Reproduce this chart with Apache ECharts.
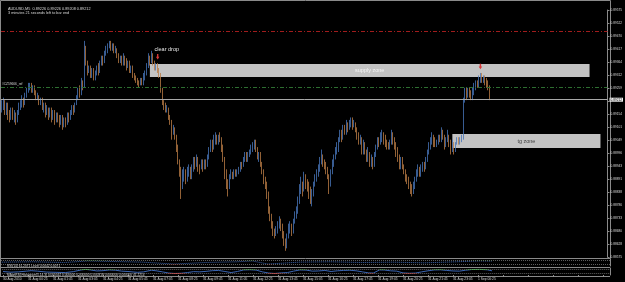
<!DOCTYPE html>
<html><head><meta charset="utf-8">
<script src="https://cdn.jsdelivr.net/npm/echarts@6/dist/echarts.min.js"></script>
<style>html,body{margin:0;padding:0;background:#000}#c{width:625px;height:282px}</style>
</head><body><div id="c"></div><script>
const timeLabels = ['30 Aug 2010','31 Aug 00:25','31 Aug 01:45','31 Aug 03:05','31 Aug 04:25','31 Aug 05:45','31 Aug 07:05','31 Aug 08:25','31 Aug 09:45','31 Aug 11:05','31 Aug 12:25','31 Aug 13:45','31 Aug 15:05','31 Aug 16:25','31 Aug 17:45','31 Aug 19:05','31 Aug 20:25','31 Aug 21:45','31 Aug 23:05','1 Sep 00:25'];
const priceTicks = ['0.88575','0.88628','0.88680','0.88733','0.88786','0.88838','0.88891','0.88943','0.88996','0.89049','0.89101','0.89154','0.89207','0.89259','0.89312','0.89364','0.89417','0.89470','0.89522','0.89575'];
const firstOpen = 0.8917;
const closes = [
0.8918,0.8920,0.8917,0.8919,0.8916,0.8914,0.8917,0.8915,0.8915,0.8913,0.8916,0.8918,0.8919,0.8921,0.8920,0.8923,
0.8925,0.8926,0.8927,0.8925,0.8926,0.8924,0.8922,0.8923,0.8920,0.8921,0.8918,0.8919,0.8916,0.8918,0.8915,0.8917,
0.8914,0.8916,0.8913,0.8915,0.8914,0.8912,0.8914,0.8911,0.8913,0.8912,0.8915,0.8914,0.8916,0.8918,0.8917,0.8919,
0.8922,0.8925,0.8924,0.8928,0.8927,0.8942,0.8936,0.8933,0.8934,0.8931,0.8933,0.8930,0.8932,0.8934,0.8933,0.8936,
0.8938,0.8937,0.8940,0.8941,0.8943,0.8944,0.8942,0.8943,0.8941,0.8942,0.8939,0.8937,0.8938,0.8936,0.8938,0.8937,
0.8935,0.8936,0.8933,0.8934,0.8931,0.8930,0.8929,0.8928,0.8927,0.8929,0.8928,0.8931,0.8932,0.8935,0.8938,0.8937,
0.8939,0.8936,0.8934,0.8935,0.8933,0.8931,0.8925,0.8920,0.8919,0.8917,0.8918,0.8914,0.8913,0.8908,0.8910,0.8906,
0.8902,0.8897,0.8893,0.8886,0.8890,0.8891,0.8889,0.8892,0.8893,0.8890,0.8893,0.8896,0.8895,0.8897,0.8894,0.8893,
0.8895,0.8894,0.8896,0.8895,0.8898,0.8901,0.8903,0.8902,0.8905,0.8906,0.8904,0.8906,0.8905,0.8902,0.8897,0.8892,
0.8888,0.8886,0.8890,0.8891,0.8890,0.8892,0.8891,0.8892,0.8893,0.8895,0.8894,0.8897,0.8898,0.8897,0.8899,0.8900,
0.8902,0.8903,0.8904,0.8901,0.8898,0.8899,0.8895,0.8892,0.8889,0.8887,0.8883,0.8877,0.8874,0.8871,0.8869,0.8867,
0.8869,0.8870,0.8872,0.8870,0.8867,0.8864,0.8862,0.8866,0.8869,0.8870,0.8868,0.8872,0.8874,0.8876,0.8880,0.8884,
0.8886,0.8885,0.8889,0.8887,0.8886,0.8884,0.8882,0.8883,0.8887,0.8889,0.8891,0.8893,0.8896,0.8898,0.8896,0.8895,
0.8893,0.8890,0.8887,0.8892,0.8895,0.8898,0.8900,0.8901,0.8905,0.8907,0.8906,0.8909,0.8908,0.8911,0.8910,0.8912,
0.8913,0.8911,0.8912,0.8909,0.8907,0.8905,0.8906,0.8901,0.8903,0.8900,0.8898,0.8899,0.8896,0.8897,0.8895,0.8899,
0.8902,0.8905,0.8904,0.8906,0.8907,0.8906,0.8904,0.8903,0.8902,0.8904,0.8906,0.8905,0.8903,0.8901,0.8898,0.8896,
0.8897,0.8894,0.8892,0.8890,0.8889,0.8887,0.8885,0.8884,0.8886,0.8889,0.8891,0.8893,0.8891,0.8893,0.8895,0.8894,
0.8897,0.8900,0.8902,0.8904,0.8906,0.8905,0.8903,0.8904,0.8906,0.8905,0.8908,0.8906,0.8903,0.8905,0.8907,0.8904,
0.8902,0.8903,0.8901,0.8903,0.8905,0.8904,0.8905,0.8905,0.8921,0.8924,0.8923,0.8925,0.8924,0.8922,0.8925,0.8926,
0.8928,0.8927,0.8930,0.8931,0.8929,0.8930,0.8929,0.8928,0.8927,0.89212];
const highs = [
0.8921,0.8922,0.8921,0.8920,0.8920,0.8917,0.8918,0.8918,0.8917,0.8916,0.8917,0.8920,0.8921,0.8923,0.8922,0.8924,
0.8926,0.8928,0.8928,0.8928,0.8927,0.8927,0.8925,0.8924,0.8923,0.8922,0.8922,0.8920,0.8920,0.8919,0.8918,0.8918,
0.8918,0.8917,0.8917,0.8916,0.8916,0.8915,0.8915,0.8915,0.8914,0.8914,0.8916,0.8916,0.8917,0.8919,0.8919,0.8920,
0.8923,0.8926,0.8927,0.8930,0.8929,0.8945,0.8943,0.8937,0.8935,0.8935,0.8934,0.8934,0.8933,0.8935,0.8936,0.8937,
0.8939,0.8939,0.8941,0.8943,0.8944,0.8945,0.8945,0.8944,0.8944,0.8943,0.8942,0.8940,0.8939,0.8939,0.8940,0.8939,
0.8938,0.8937,0.8937,0.8935,0.8935,0.8932,0.8931,0.8930,0.8929,0.8930,0.8930,0.8932,0.8933,0.8936,0.8940,0.8939,
0.8941,0.8940,0.8937,0.8936,0.8936,0.8934,0.8932,0.8926,0.8921,0.8920,0.8919,0.8918,0.8915,0.8913,0.8911,0.8910,
0.8907,0.8903,0.8897,0.8894,0.8893,0.8894,0.8893,0.8894,0.8895,0.8894,0.8895,0.8898,0.8898,0.8899,0.8898,0.8895,
0.8897,0.8897,0.8897,0.8897,0.8899,0.8902,0.8905,0.8905,0.8907,0.8908,0.8907,0.8907,0.8908,0.8906,0.8903,0.8898,
0.8893,0.8889,0.8891,0.8893,0.8892,0.8893,0.8893,0.8893,0.8894,0.8896,0.8896,0.8898,0.8900,0.8900,0.8900,0.8901,
0.8903,0.8904,0.8905,0.8905,0.8902,0.8900,0.8900,0.8896,0.8893,0.8890,0.8888,0.8884,0.8878,0.8875,0.8872,0.8869,
0.8870,0.8872,0.8874,0.8873,0.8871,0.8868,0.8865,0.8867,0.8871,0.8872,0.8871,0.8873,0.8876,0.8878,0.8882,0.8887,
0.8890,0.8888,0.8892,0.8891,0.8889,0.8888,0.8886,0.8885,0.8888,0.8891,0.8893,0.8895,0.8898,0.8901,0.8899,0.8897,
0.8896,0.8894,0.8891,0.8893,0.8897,0.8899,0.8902,0.8904,0.8906,0.8909,0.8909,0.8911,0.8911,0.8913,0.8912,0.8913,
0.8914,0.8914,0.8913,0.8912,0.8910,0.8908,0.8907,0.8906,0.8905,0.8904,0.8901,0.8902,0.8900,0.8899,0.8898,0.8900,
0.8903,0.8906,0.8906,0.8908,0.8909,0.8908,0.8907,0.8905,0.8904,0.8905,0.8909,0.8908,0.8906,0.8904,0.8902,0.8899,
0.8898,0.8898,0.8895,0.8893,0.8891,0.8890,0.8888,0.8887,0.8888,0.8890,0.8893,0.8895,0.8894,0.8895,0.8896,0.8896,
0.8898,0.8901,0.8904,0.8906,0.8908,0.8907,0.8906,0.8905,0.8907,0.8907,0.8910,0.8909,0.8907,0.8906,0.8909,0.8907,
0.8905,0.8905,0.8904,0.8904,0.8906,0.8906,0.8906,0.8907,0.8922,0.8926,0.8926,0.8926,0.8926,0.8925,0.8926,0.8928,
0.8929,0.8929,0.8931,0.8932,0.8932,0.8931,0.8931,0.8930,0.8929,0.8927];
const lows = [
0.8916,0.8917,0.8915,0.8915,0.8913,0.8912,0.8913,0.8913,0.8912,0.8911,0.8912,0.8915,0.8917,0.8918,0.8918,0.8919,
0.8922,0.8924,0.8925,0.8924,0.8924,0.8923,0.8921,0.8921,0.8919,0.8919,0.8917,0.8916,0.8914,0.8915,0.8913,0.8914,
0.8912,0.8913,0.8911,0.8912,0.8912,0.8910,0.8911,0.8909,0.8910,0.8910,0.8911,0.8912,0.8913,0.8915,0.8915,0.8916,
0.8919,0.8921,0.8922,0.8923,0.8925,0.8926,0.8935,0.8931,0.8932,0.8930,0.8930,0.8929,0.8929,0.8931,0.8931,0.8932,
0.8935,0.8935,0.8936,0.8939,0.8940,0.8942,0.8941,0.8941,0.8940,0.8940,0.8938,0.8936,0.8936,0.8935,0.8935,0.8935,
0.8933,0.8934,0.8932,0.8932,0.8930,0.8929,0.8928,0.8927,0.8926,0.8927,0.8927,0.8927,0.8929,0.8931,0.8934,0.8935,
0.8936,0.8935,0.8933,0.8933,0.8932,0.8930,0.8924,0.8919,0.8917,0.8916,0.8916,0.8913,0.8911,0.8905,0.8907,0.8905,
0.8900,0.8895,0.8890,0.8881,0.8885,0.8888,0.8887,0.8888,0.8890,0.8889,0.8889,0.8892,0.8893,0.8894,0.8892,0.8891,
0.8893,0.8892,0.8893,0.8893,0.8894,0.8897,0.8900,0.8900,0.8901,0.8903,0.8903,0.8903,0.8904,0.8900,0.8896,0.8889,
0.8885,0.8882,0.8885,0.8889,0.8889,0.8889,0.8890,0.8890,0.8891,0.8892,0.8893,0.8894,0.8896,0.8896,0.8896,0.8898,
0.8899,0.8900,0.8901,0.8900,0.8897,0.8896,0.8894,0.8891,0.8887,0.8885,0.8881,0.8875,0.8872,0.8869,0.8866,0.8865,
0.8866,0.8867,0.8869,0.8868,0.8865,0.8862,0.8860,0.8861,0.8865,0.8867,0.8866,0.8867,0.8871,0.8873,0.8875,0.8879,
0.8883,0.8882,0.8884,0.8885,0.8884,0.8881,0.8879,0.8878,0.8882,0.8886,0.8888,0.8890,0.8892,0.8895,0.8894,0.8893,
0.8891,0.8889,0.8883,0.8886,0.8891,0.8894,0.8897,0.8899,0.8900,0.8904,0.8904,0.8905,0.8907,0.8907,0.8908,0.8909,
0.8910,0.8909,0.8910,0.8908,0.8905,0.8903,0.8903,0.8899,0.8899,0.8899,0.8896,0.8896,0.8894,0.8894,0.8893,0.8894,
0.8898,0.8901,0.8902,0.8903,0.8904,0.8903,0.8902,0.8901,0.8901,0.8901,0.8903,0.8903,0.8901,0.8898,0.8896,0.8893,
0.8893,0.8893,0.8891,0.8888,0.8887,0.8885,0.8883,0.8882,0.8883,0.8885,0.8888,0.8890,0.8890,0.8890,0.8892,0.8892,
0.8893,0.8896,0.8899,0.8901,0.8903,0.8902,0.8902,0.8902,0.8903,0.8904,0.8904,0.8905,0.8901,0.8902,0.8904,0.8902,
0.8899,0.8900,0.8899,0.8900,0.8903,0.8903,0.8903,0.8904,0.8905,0.8920,0.8921,0.8922,0.8922,0.8921,0.8921,0.8923,
0.8925,0.8926,0.8926,0.8928,0.8928,0.8928,0.8927,0.8926,0.8925,0.8921];
const supplyZone = [0.89356, 0.89304];
const supplyBars = [95, 377];
const tgZone = [0.89073, 0.89016];
const tgBars = [289, 384];
const redLevel = 0.89490;
const greenLevel = 0.89263;
const bidPrice = 0.89212;
const arrowMarks = [[100, 0.89386], [307, 0.89346]];
const clearDropMark = [98, 0.89414];
const osc1 = [[0,55],[20,60],[40,50],[55,72],[70,65],[90,55],[110,28],[130,50],[150,60],[160,72],[170,28],[190,55],[210,60],[230,50],[250,55],[270,45],[290,60],[305,72],[313,70]];
const osc2 = [[0,50],[5,40],[10,45],[15,55],[18,62],[22,55],[28,42],[34,38],[40,35],[45,48],[50,72],[53,80],[56,72],[60,58],[64,62],[68,72],[72,68],[76,55],[80,50],[86,38],[90,45],[95,68],[98,60],[102,45],[106,28],[110,22],[114,25],[118,35],[122,48],[126,45],[130,52],[134,62],[138,65],[142,50],[146,35],[150,50],[154,72],[158,75],[162,70],[166,45],[170,28],[174,22],[178,30],[182,35],[186,55],[190,72],[194,70],[198,55],[202,58],[206,65],[210,50],[214,60],[218,65],[222,68],[226,60],[230,45],[234,30],[237,28],[241,72],[244,71],[248,60],[252,55],[256,30],[260,25],[264,28],[268,45],[272,60],[276,72],[280,74],[284,65],[288,58],[292,55],[296,68],[300,78],[305,80],[310,74],[313,60]];

const base = Number(priceTicks[0]);
const step = (Number(priceTicks[priceTicks.length-1]) - base) / (priceTicks.length - 1);
const toT = p => (p - base) / step;
const SLOTS = 389;
const cats = Array.from({length: SLOTS}, (_, i) => String(i));
const candles = closes.map((c, i) => [toT(i ? closes[i-1] : firstOpen), toT(c), toT(lows[i]), toT(highs[i])]);
const FONT = 'Liberation Sans';
const txt = '#d8d8d8';
const arrowPath = 'path://M3,0 L7,0 L7,6 L10,6 L5,12 L0,6 L3,6 Z';

const chart = echarts.init(document.getElementById('c'), null, {renderer: 'canvas'});
chart.setOption({
  backgroundColor: '#000',
  animation: false,
  textStyle: {fontFamily: FONT},
  title: [
    {text: 'AUDUSD,M5  0.89226 0.89226 0.89208 0.89212', left: 3, top: 1.5, textStyle: {color: txt, fontSize: 3.8, fontWeight: 'normal', fontFamily: FONT}},
    {text: '3 minutes 21 seconds left to bar end', left: 3, top: 6, textStyle: {color: txt, fontSize: 3.8, fontWeight: 'normal', fontFamily: FONT}},
    {text: 'RSI(14) 61.2071 Level 0.0042 0.0071', left: 2, top: 260, textStyle: {color: txt, fontSize: 3.2, fontWeight: 'normal', fontFamily: FONT}},
    {text: 'MAonRSI Histogram(5,14,3) 0.000042 0.000000 0.000000 0.000318 0.000000 0.000000 41.2214', left: 2, top: 269, textStyle: {color: txt, fontSize: 3.2, fontWeight: 'normal', fontFamily: FONT}}
  ],
  grid: [
    {left: 1, top: 10, width: 609, height: 247},
    {left: 1, top: 259, width: 609, height: 7},
    {left: 1, top: 268, width: 609, height: 7}
  ],
  xAxis: [
    {type: 'category', gridIndex: 0, data: cats, boundaryGap: true, axisLine: {show: false}, axisTick: {show: false}, axisLabel: {show: false}},
    {type: 'category', gridIndex: 1, data: cats, boundaryGap: true, axisLine: {show: false}, axisTick: {show: false}, axisLabel: {show: false}},
    {type: 'category', gridIndex: 2, data: cats, boundaryGap: true, axisLine: {show: false},
     axisTick: {show: true, interval: 15, length: 2, alignWithLabel: true, lineStyle: {color: '#909090'}},
     axisLabel: {show: true, interval: 15, align: 'left', margin: 3, fontSize: 3.3, color: txt, fontFamily: FONT,
       formatter: (v) => { const i = Number(v); return (i % 16 === 0 && timeLabels[i/16]) ? timeLabels[i/16] : ''; }}}
  ],
  yAxis: [
    {type: 'value', gridIndex: 0, position: 'right', min: 0, max: priceTicks.length - 1, interval: 1,
     axisLine: {show: true, lineStyle: {color: '#8a8a8a'}}, axisTick: {show: true, length: 2, lineStyle: {color: '#8a8a8a'}},
     splitLine: {show: false},
     axisLabel: {margin: 3, fontSize: 3.2, color: txt, fontFamily: FONT,
       formatter: (v) => { const k = Math.round(v); return k === 12 ? '' : (priceTicks[k] || ''); }}},
    {type: 'value', gridIndex: 1, position: 'right', min: 0, max: 100, axisLine: {show: true, lineStyle: {color: '#8a8a8a'}}, axisTick: {show: false}, axisLabel: {show: false}, splitLine: {show: false}},
    {type: 'value', gridIndex: 2, position: 'right', min: 0, max: 100, axisLine: {show: true, lineStyle: {color: '#8a8a8a'}}, axisTick: {show: false}, axisLabel: {show: false}, splitLine: {show: false}}
  ],
  visualMap: [{
    type: 'piecewise', show: false, seriesIndex: [1, 2], dimension: 1,
    pieces: [{gt: 70, color: '#2f9a3a'}, {lt: 30, color: '#c63434'}, {gte: 30, lte: 70, color: '#3b66b4'}]
  }],
  series: [
    {
      type: 'candlestick', xAxisIndex: 0, yAxisIndex: 0, data: candles, barWidth: 0.1,
      itemStyle: {color: '#4673b8', color0: '#b87a44', borderColor: '#4673b8', borderColor0: '#b87a44', borderWidth: 0.8},
      markLine: {
        silent: true, symbol: ['none', 'none'], animation: false,
        data: [
          {yAxis: toT(redLevel), lineStyle: {color: '#a01c1c', type: [4, 2, 1, 2], width: 1}, label: {show: false}},
          {yAxis: toT(greenLevel), lineStyle: {color: '#2d6e30', type: [4, 2, 1, 2], width: 1},
           label: {show: true, position: 'insideStartTop', formatter: '#CZ59666_ref', color: txt, fontSize: 3.2, distance: 1, fontFamily: FONT}},
          {yAxis: toT(bidPrice), lineStyle: {color: '#a8a8a8', type: 'solid', width: 1},
           label: {show: true, position: 'end', formatter: String(bidPrice), color: '#000', backgroundColor: '#f2f2f2', padding: [0.5, 1], fontSize: 3.2, distance: 2, fontFamily: FONT}}
        ]
      },
      markArea: {
        silent: true,
        data: [
          [{xAxis: supplyBars[0], yAxis: toT(supplyZone[0]), itemStyle: {color: '#c3c3c3'},
            label: {show: true, position: 'inside', formatter: 'supply zone', color: '#f4f4f4', fontSize: 5.5, fontFamily: FONT}},
           {xAxis: supplyBars[1], yAxis: toT(supplyZone[1])}],
          [{xAxis: tgBars[0], yAxis: toT(tgZone[0]), itemStyle: {color: '#c3c3c3'},
            label: {show: true, position: 'inside', formatter: 'tg zone', color: '#404040', fontSize: 5.5, fontFamily: FONT}},
           {xAxis: tgBars[1], yAxis: toT(tgZone[1])}]
        ]
      },
      markPoint: {
        silent: true,
        data: [
          ...arrowMarks.map(a => ({coord: [a[0], toT(a[1])], symbol: arrowPath, symbolSize: [3.5, 5.5], itemStyle: {color: '#d83838'}, label: {show: false}})),
          {coord: [clearDropMark[0], toT(clearDropMark[1])], symbol: 'circle', symbolSize: 0,
           label: {show: true, position: 'right', distance: 0, formatter: 'clear drop', color: '#e8e8e8', fontSize: 5.5, fontFamily: FONT}}
        ]
      }
    },
    {
      type: 'line', xAxisIndex: 1, yAxisIndex: 1, data: osc1, symbol: 'none', lineStyle: {width: 1, type: [1, 1]},
      markLine: {silent: true, symbol: ['none', 'none'], label: {show: false}, lineStyle: {color: '#9a9a9a', type: [1, 1], width: 0.6}, data: [{yAxis: 30}, {yAxis: 80}]}
    },
    {
      type: 'line', xAxisIndex: 2, yAxisIndex: 2, data: osc2, symbol: 'none', lineStyle: {width: 1},
      markLine: {silent: true, symbol: ['none', 'none'], label: {show: false}, lineStyle: {color: '#9a9a9a', type: [1, 1], width: 0.6}, data: [{yAxis: 25}, {yAxis: 80}]}
    }
  ],
  graphic: [
    {type: 'rect', silent: true, shape: {x: 0.5, y: 0.5, width: 610, height: 258}, style: {fill: null, stroke: '#8a8a8a', lineWidth: 1}},
    {type: 'line', silent: true, shape: {x1: 0, y1: 267.5, x2: 610, y2: 267.5}, style: {stroke: '#8a8a8a', lineWidth: 1}},
    {type: 'line', silent: true, shape: {x1: 0, y1: 276.5, x2: 610, y2: 276.5}, style: {stroke: '#8a8a8a', lineWidth: 1}},
    {type: 'line', silent: true, shape: {x1: 0.5, y1: 258, x2: 0.5, y2: 277}, style: {stroke: '#8a8a8a', lineWidth: 1}}
  ]
});
</script></body></html>
